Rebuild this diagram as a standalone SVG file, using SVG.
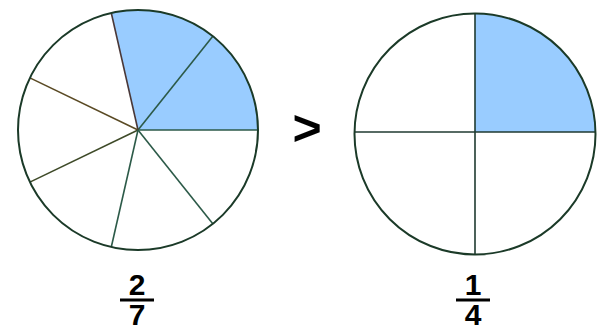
<svg xmlns="http://www.w3.org/2000/svg" width="600" height="331" viewBox="0 0 600 331">
<style>
.rim{fill:none;stroke:#1b3a28;stroke-width:2}
.sp{stroke:#2c5a48;stroke-width:1.6;fill:none}
.fill{fill:#99ccff;stroke:none}
.num{font-family:"Liberation Sans",Arial,sans-serif;font-weight:bold;font-size:30px;fill:#000;text-anchor:middle}
.bar{stroke:#000;stroke-width:3}
</style>
<rect width="600" height="331" fill="#fff"/>
<g id="pie-sevenths">
<circle cx="138" cy="130" r="120" fill="#fff"/>
<path class="fill" d="M138,130 L258,130 A120,120 0 0 0 111.3,13 Z"/>
<line class="sp" x1="138" y1="130" x2="258" y2="130"/>
<line class="sp" x1="138" y1="130" x2="212.8" y2="36.2"/>
<line class="sp" x1="138" y1="130" x2="111.3" y2="13" style="stroke:#4a3838"/>
<line class="sp" x1="138" y1="130" x2="29.9" y2="77.9" style="stroke:#5a4a24"/>
<line class="sp" x1="138" y1="130" x2="29.9" y2="182.1" style="stroke:#3e4a28"/>
<line class="sp" x1="138" y1="130" x2="111.3" y2="247"/>
<line class="sp" x1="138" y1="130" x2="212.8" y2="223.8"/>
<circle class="rim" cx="138" cy="130" r="120"/>
</g>
<g id="pie-quarters">
<circle cx="475" cy="134" r="120.5" fill="#fff"/>
<path class="fill" d="M475,132 L595.5,132 A120.5,120.5 0 0 0 475,13.5 Z"/>
<line class="sp" x1="354.5" y1="132" x2="595.5" y2="132" style="stroke:#1f3a30"/>
<line class="sp" x1="475" y1="13.5" x2="475" y2="254.5" style="stroke:#1f3a30"/>
<circle class="rim" cx="475" cy="134" r="120.5"/>
</g>
<g id="compare">
<text x="307" y="145" class="num" style="font-size:50px">&gt;</text>
</g>
<g id="frac-left">
<text x="137" y="295" class="num">2</text>
<line class="bar" x1="120" y1="300" x2="154" y2="300"/>
<text x="137" y="325" class="num">7</text>
</g>
<g id="frac-right">
<text x="473" y="295" class="num">1</text>
<line class="bar" x1="456" y1="300" x2="490" y2="300"/>
<text x="473" y="325" class="num">4</text>
</g>
</svg>
